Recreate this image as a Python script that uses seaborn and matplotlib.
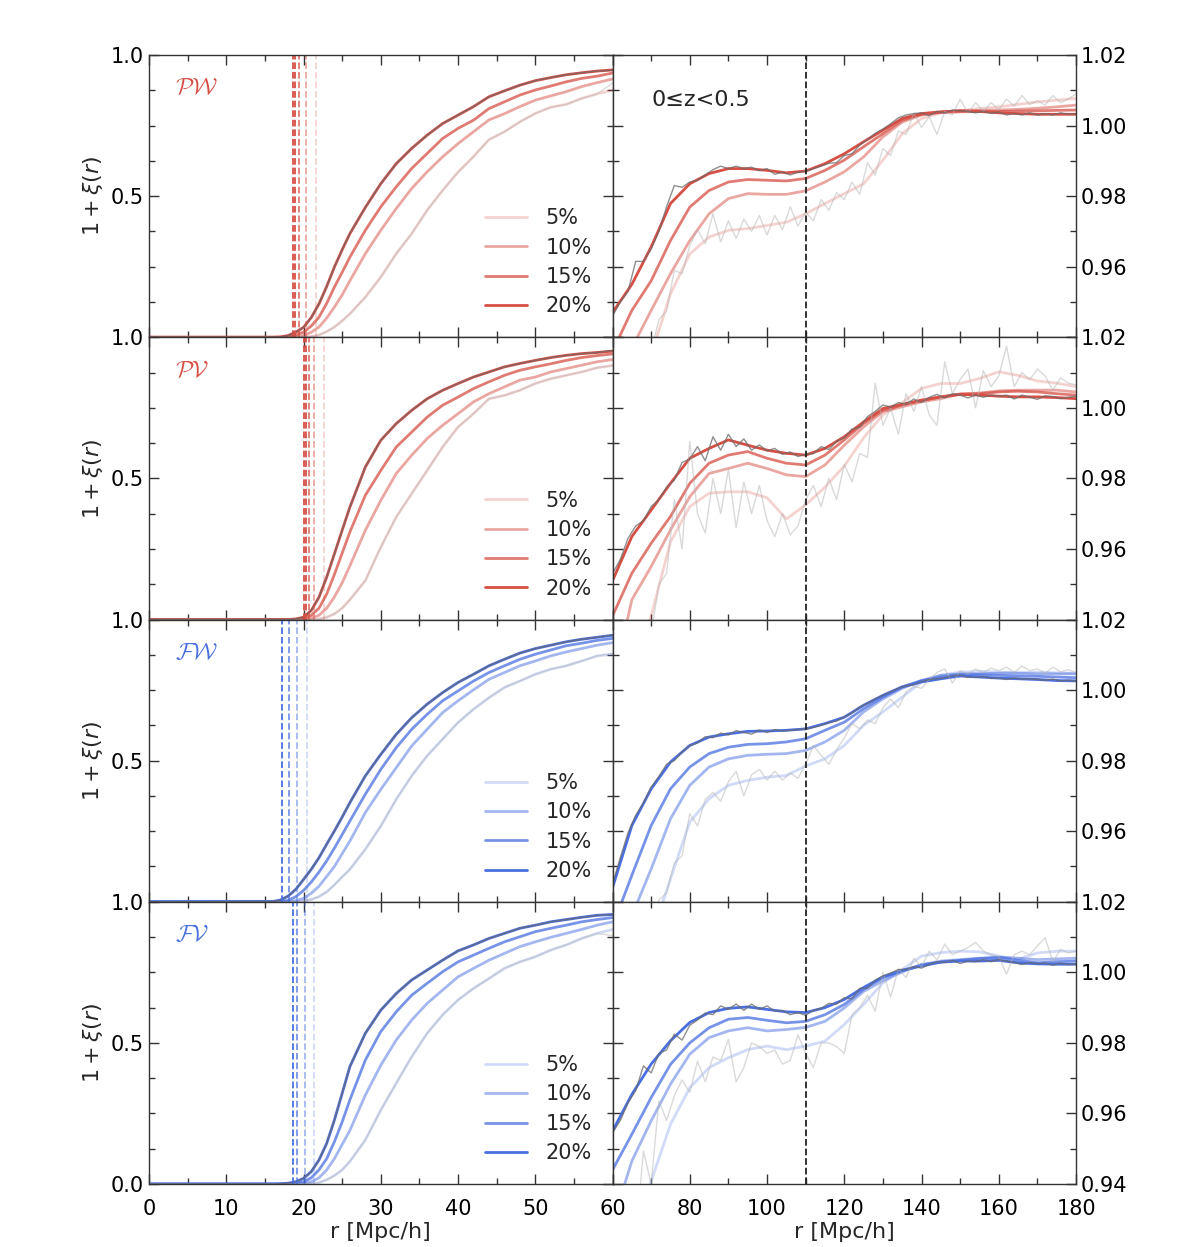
import numpy as np
import matplotlib
matplotlib.use("Agg")
import matplotlib.pyplot as plt
import seaborn as sns
from matplotlib.ticker import MultipleLocator

# radial grids [Mpc/h]
r_in = [0, 16, 17, 18, 19, 20, 21, 22, 23, 24, 25, 26, 28, 30, 32, 34, 36, 38,
        40, 42, 44, 46, 48, 50, 52, 54, 56, 58]
r_out = [60, 65, 70, 75, 80, 85, 90, 95, 100, 105, 110, 115, 120, 125, 130,
         135, 140, 145, 150, 155, 160, 165, 170, 175, 180]
r_raw = [60, 62, 64, 66, 68, 70, 72, 74, 76, 78, 80, 82, 84, 86, 88, 90, 92, 94,
         96, 98, 100, 102, 104, 106, 108, 110, 112, 114, 116, 118, 120, 122, 124,
         126, 128, 130, 132, 134, 136, 138, 140, 142, 144, 146, 148, 150, 152,
         154, 156, 158, 160, 162, 164, 166, 168, 170, 172, 174, 176, 178, 180]

percent_labels = ["5%", "10%", "15%", "20%"]

# ---- PW : smoothed curves (5%, 10%, 15%, 20%) ----
pw_in = [
    [0, 0, 0, 0, 0, 0.001, 0.003, 0.008, 0.02, 0.036, 0.058, 0.083, 0.142, 0.213, 0.296, 0.367, 0.45, 0.52,
     0.585, 0.64, 0.7, 0.728, 0.763, 0.793, 0.815, 0.825, 0.846, 0.862],
    [0, 0, 0, 0, 0.002, 0.006, 0.018, 0.036, 0.068, 0.107, 0.15, 0.2, 0.296, 0.379, 0.456, 0.527, 0.586, 0.639,
     0.686, 0.728, 0.77, 0.792, 0.817, 0.84, 0.855, 0.87, 0.888, 0.902],
    [0, 0, 0, 0.002, 0.008, 0.018, 0.04, 0.071, 0.12, 0.178, 0.23, 0.284, 0.379, 0.462, 0.533, 0.598, 0.651, 0.704,
     0.74, 0.769, 0.81, 0.834, 0.858, 0.876, 0.89, 0.905, 0.917, 0.925],
    [0, 0, 0.001, 0.006, 0.018, 0.035, 0.07, 0.118, 0.18, 0.249, 0.31, 0.367, 0.46, 0.544, 0.615, 0.669, 0.716, 0.757,
     0.787, 0.817, 0.852, 0.873, 0.893, 0.909, 0.92, 0.93, 0.937, 0.943],
]
pw_out = [
    [0.876, 0.905, 0.935, 0.9523, 0.9636, 0.9684, 0.9703, 0.9708, 0.9717, 0.9726, 0.975, 0.9779, 0.9807, 0.9835,
     0.9902, 0.9977, 1.002, 1.0036, 1.0042, 1.0048, 1.0053, 1.006, 1.0067, 1.0072, 1.0077],
    [0.915, 0.937, 0.9476, 0.958, 0.9674, 0.975, 0.9793, 0.9807, 0.9805, 0.9805, 0.9815, 0.984, 0.9869, 0.9911,
     0.9968, 1.001, 1.003, 1.0038, 1.0042, 1.0043, 1.0044, 1.0046, 1.0049, 1.0053, 1.0058],
    [0.936, 0.9476, 0.956, 0.9674, 0.9769, 0.9816, 0.984, 0.9847, 0.9845, 0.9843, 0.985, 0.9873, 0.9902, 0.994,
     0.9977, 1.0015, 1.0032, 1.0037, 1.0039, 1.004, 1.004, 1.0041, 1.0042, 1.0043, 1.0044],
    [0.947, 0.955, 0.9656, 0.9779, 0.9835, 0.9864, 0.9878, 0.9878, 0.9873, 0.9866, 0.9871, 0.9892, 0.992, 0.9954,
     0.9987, 1.002, 1.0034, 1.0039, 1.0042, 1.004, 1.0036, 1.0034, 1.0032, 1.0032, 1.0032],
]
pw_raw_dark = [0.946, 0.950, 0.953, 0.9615, 0.9615, 0.965, 0.970, 0.977, 0.983, 0.9825,
               0.984, 0.9845, 0.986, 0.9875, 0.9885, 0.9878, 0.9885, 0.9878, 0.9882, 0.9872,
               0.9878, 0.9862, 0.9868, 0.986, 0.9868, 0.987, 0.9878, 0.9885, 0.9893, 0.9895,
               0.9915, 0.992, 0.9945, 0.996, 0.9978, 0.999, 1.0005, 1.0022, 1.003, 1.0034,
               1.0036, 1.0028, 1.004, 1.0036, 1.0044, 1.0042, 1.004, 1.0036, 1.004, 1.0035,
               1.0038, 1.003, 1.0034, 1.003, 1.0036, 1.003, 1.0034, 1.003, 1.0036, 1.0032,
               1.0034]
pw_raw_light = [0.900, 0.910, 0.920, 0.925, 0.930, 0.936, 0.945, 0.9475, 0.959, 0.958,
                0.966, 0.9705, 0.9665, 0.975, 0.967, 0.973, 0.968, 0.9735, 0.970, 0.9745,
                0.969, 0.9745, 0.9705, 0.977, 0.9715, 0.9755, 0.973, 0.979, 0.976, 0.981,
                0.979, 0.984, 0.9805, 0.9895, 0.986, 0.9935, 0.9915, 0.9985, 0.9975, 1.0035,
                0.9995, 1.0025, 0.9975, 1.004, 1.003, 1.0075, 1.0035, 1.0065, 1.004, 1.0065,
                1.0045, 1.0075, 1.0055, 1.0085, 1.006, 1.007, 1.0058, 1.0085, 1.0065, 1.0075,
                1.009]
pw_cross = [21.6, 20.3, 19.45, 18.9, 18.65]

# ---- PV ----
pv_in = [
    [0, 0, 0, 0, 0, 0, 0, 0.002, 0.008, 0.02, 0.04, 0.07, 0.138, 0.256, 0.363, 0.446, 0.528, 0.611,
     0.682, 0.729, 0.782, 0.794, 0.812, 0.836, 0.853, 0.865, 0.877, 0.892],
    [0, 0, 0, 0, 0, 0, 0.005, 0.015, 0.04, 0.08, 0.13, 0.19, 0.316, 0.422, 0.517, 0.582, 0.641, 0.688,
     0.729, 0.771, 0.8, 0.824, 0.848, 0.859, 0.877, 0.889, 0.901, 0.913],
    [0, 0, 0, 0, 0, 0.004, 0.015, 0.04, 0.09, 0.16, 0.235, 0.31, 0.44, 0.528, 0.611, 0.664, 0.717, 0.759,
     0.788, 0.818, 0.842, 0.865, 0.883, 0.895, 0.906, 0.918, 0.928, 0.935],
    [0, 0, 0, 0, 0.002, 0.008, 0.032, 0.079, 0.15, 0.233, 0.316, 0.398, 0.54, 0.635, 0.694, 0.741, 0.782, 0.812,
     0.836, 0.859, 0.877, 0.895, 0.907, 0.918, 0.928, 0.936, 0.942, 0.946],
]
pv_out = [
    [0.9, 0.925, 0.941, 0.962, 0.972, 0.9758, 0.9762, 0.9762, 0.9745, 0.9685, 0.9725, 0.9775, 0.9835, 0.9915,
     0.998, 1.0015, 1.0055, 1.0069, 1.0069, 1.0083, 1.0102, 1.0092, 1.0076, 1.007, 1.006],
    [0.921, 0.9456, 0.955, 0.9654, 0.9748, 0.9814, 0.9828, 0.9843, 0.9828, 0.981, 0.9805, 0.9838, 0.9894, 0.9946,
     0.9989, 1.0003, 1.0017, 1.0026, 1.0039, 1.0042, 1.0048, 1.005, 1.005, 1.005, 1.0045],
    [0.941, 0.9531, 0.9616, 0.9692, 0.9786, 0.9843, 0.9866, 0.9876, 0.9857, 0.9843, 0.9838, 0.9866, 0.9909, 0.9956,
     0.9993, 1.0008, 1.002, 1.0031, 1.0039, 1.004, 1.0045, 1.0047, 1.0045, 1.004, 1.0036],
    [0.951, 0.9635, 0.971, 0.9786, 0.9857, 0.9885, 0.9909, 0.9894, 0.988, 0.9871, 0.9866, 0.9885, 0.9918, 0.996,
     0.9998, 1.001, 1.0022, 1.0031, 1.0038, 1.0036, 1.0033, 1.0031, 1.0031, 1.0029, 1.0026],
]
pv_raw_dark = [0.953, 0.957, 0.963, 0.9665, 0.968, 0.972, 0.974, 0.9775, 0.9795, 0.9845,
               0.9855, 0.989, 0.985, 0.9918, 0.988, 0.9925, 0.989, 0.9912, 0.988, 0.9895,
               0.9878, 0.9885, 0.9868, 0.9875, 0.9862, 0.9868, 0.987, 0.989, 0.9882, 0.9905,
               0.9915, 0.994, 0.9945, 0.9975, 0.999, 1.0008, 1.0002, 1.0015, 1.001, 1.0025,
               1.0015, 1.003, 1.0038, 1.0028, 1.004, 1.0036, 1.0028, 1.0036, 1.003, 1.0036,
               1.0033, 1.0036, 1.0025, 1.0036, 1.003, 1.0024, 1.0034, 1.0032, 1.0026, 1.003,
               1.0033]
pv_raw_light = [0.900, 0.910, 0.920, 0.925, 0.930, 0.936, 0.950, 0.953, 0.974, 0.960,
                0.9905, 0.970, 0.9645, 0.980, 0.970, 0.9825, 0.966, 0.979, 0.970, 0.978,
                0.968, 0.9635, 0.970, 0.964, 0.9665, 0.974, 0.978, 0.972, 0.980, 0.974,
                0.984, 0.979, 0.987, 0.986, 1.007, 0.995, 1.000, 0.9925, 1.004, 0.999,
                1.006, 0.998, 0.995, 1.013, 1.004, 1.008, 1.011, 1.000, 1.0105, 1.006,
                1.009, 1.0175, 1.006, 1.010, 1.008, 1.011, 1.009, 1.005, 1.0085, 1.007,
                1.0065]
pv_cross = [22.6, 21.4, 20.7, 20.3, 20.05]

# ---- FW ----
fw_in = [
    [0, 0, 0, 0, 0.001, 0.003, 0.008, 0.018, 0.035, 0.06, 0.088, 0.115, 0.186, 0.268, 0.363, 0.446, 0.517, 0.576,
     0.635, 0.682, 0.723, 0.759, 0.782, 0.806, 0.824, 0.836, 0.853, 0.871],
    [0, 0, 0, 0.001, 0.004, 0.012, 0.03, 0.055, 0.09, 0.125, 0.17, 0.215, 0.316, 0.398, 0.475, 0.552, 0.611, 0.67,
     0.712, 0.751, 0.788, 0.812, 0.836, 0.853, 0.871, 0.885, 0.897, 0.909],
    [0, 0, 0.001, 0.005, 0.018, 0.04, 0.07, 0.105, 0.145, 0.19, 0.238, 0.286, 0.381, 0.469, 0.546, 0.611, 0.664, 0.712,
     0.747, 0.782, 0.812, 0.836, 0.859, 0.877, 0.892, 0.907, 0.916, 0.926],
    [0, 0.001, 0.006, 0.02, 0.044, 0.079, 0.115, 0.156, 0.204, 0.251, 0.30, 0.351, 0.446, 0.522, 0.593, 0.652, 0.7,
     0.741, 0.777, 0.806, 0.836, 0.859, 0.881, 0.897, 0.909, 0.921, 0.93, 0.937],
]
fw_out = [
    [0.877, 0.905, 0.93, 0.9465, 0.9626, 0.9692, 0.973, 0.9744, 0.9753, 0.9758, 0.9785, 0.9805, 0.9843, 0.99,
     0.9938, 0.998, 1.0023, 1.0042, 1.0051, 1.0053, 1.0051, 1.0049, 1.0051, 1.0049, 1.0048],
    [0.918, 0.936, 0.9493, 0.9635, 0.973, 0.9782, 0.9805, 0.9815, 0.9818, 0.982, 0.9829, 0.9853, 0.9886, 0.9938,
     0.9975, 1.0005, 1.0027, 1.0042, 1.0046, 1.0046, 1.0048, 1.0048, 1.0046, 1.0046, 1.0046],
    [0.933, 0.9475, 0.9616, 0.972, 0.9782, 0.982, 0.9838, 0.9846, 0.9848, 0.9853, 0.9862, 0.9886, 0.9909, 0.9947,
     0.998, 1.0009, 1.0027, 1.0037, 1.0044, 1.0044, 1.0042, 1.004, 1.0039, 1.0037, 1.0035],
    [0.944, 0.9616, 0.972, 0.9796, 0.9843, 0.9867, 0.9876, 0.9883, 0.9884, 0.9886, 0.989, 0.9905, 0.9923, 0.9957,
     0.9985, 1.0009, 1.0023, 1.0032, 1.004, 1.0037, 1.0034, 1.0032, 1.003, 1.0027, 1.0026],
]
fw_raw_dark = [0.945, 0.9525, 0.9595, 0.9645, 0.968, 0.9725, 0.9755, 0.979, 0.980, 0.9825,
               0.9843, 0.985, 0.9868, 0.9865, 0.9878, 0.9873, 0.9885, 0.988, 0.9875, 0.9887,
               0.988, 0.9888, 0.9884, 0.9886, 0.9888, 0.989, 0.9894, 0.990, 0.9908, 0.9912,
               0.9924, 0.9935, 0.9952, 0.9962, 0.9975, 0.9985, 0.9995, 1.0005, 1.0012, 1.0015,
               1.0024, 1.003, 1.0032, 1.0035, 1.004, 1.0042, 1.0036, 1.0036, 1.0038, 1.0033,
               1.0034, 1.003, 1.0034, 1.0031, 1.0032, 1.003, 1.0028, 1.0031, 1.0026, 1.0028,
               1.0026]
fw_raw_light = [0.880, 0.890, 0.900, 0.912, 0.922, 0.930, 0.9405, 0.9425, 0.951, 0.953,
                0.965, 0.9615, 0.969, 0.971, 0.9685, 0.974, 0.977, 0.970, 0.976, 0.9775,
                0.9745, 0.977, 0.9745, 0.9765, 0.975, 0.979, 0.9843, 0.9815, 0.979, 0.983,
                0.9865, 0.9905, 0.989, 0.9915, 0.9905, 0.995, 0.9975, 0.995, 0.9995, 1.001,
                1.0005, 1.003, 1.005, 1.006, 1.002, 1.0055, 1.0045, 1.006, 1.005, 1.0062,
                1.0055, 1.0065, 1.005, 1.0068, 1.0055, 1.006, 1.0048, 1.0065, 1.0052, 1.0058,
                1.005]
fw_cross = [20.5, 19.15, 18.1, 17.25]

# ---- FV ----
fv_in = [
    [0, 0, 0, 0, 0, 0.001, 0.002, 0.005, 0.015, 0.03, 0.05, 0.08, 0.156, 0.262, 0.357, 0.451, 0.534, 0.599,
     0.652, 0.693, 0.728, 0.764, 0.787, 0.805, 0.829, 0.847, 0.87, 0.888],
    [0, 0, 0, 0, 0.001, 0.003, 0.008, 0.022, 0.05, 0.09, 0.14, 0.19, 0.315, 0.421, 0.51, 0.581, 0.64, 0.687,
     0.734, 0.764, 0.793, 0.817, 0.841, 0.858, 0.874, 0.888, 0.902, 0.917],
    [0, 0, 0, 0.001, 0.003, 0.008, 0.022, 0.05, 0.09, 0.15, 0.22, 0.298, 0.439, 0.54, 0.61, 0.669, 0.711, 0.752,
     0.787, 0.811, 0.835, 0.858, 0.876, 0.894, 0.906, 0.917, 0.929, 0.937],
    [0, 0, 0.001, 0.003, 0.008, 0.02, 0.044, 0.085, 0.144, 0.227, 0.321, 0.416, 0.534, 0.616, 0.675, 0.723, 0.758,
     0.793, 0.826, 0.847, 0.87, 0.888, 0.906, 0.917, 0.929, 0.937, 0.945, 0.952],
]
fv_out = [
    [0.902, 0.925, 0.9408, 0.9569, 0.9673, 0.973, 0.9758, 0.9781, 0.9791, 0.9781, 0.9791, 0.9805, 0.9852, 0.9909,
     0.997, 1.0008, 1.0046, 1.0056, 1.006, 1.0058, 1.0046, 1.0037, 1.0055, 1.006, 1.006],
    [0.929, 0.9465, 0.9579, 0.9683, 0.9768, 0.9815, 0.9834, 0.9843, 0.9834, 0.9838, 0.9844, 0.9861, 0.9899, 0.9946,
     0.9976, 1.0001, 1.0022, 1.0032, 1.0036, 1.004, 1.0043, 1.004, 1.0036, 1.0038, 1.004],
    [0.944, 0.9541, 0.9645, 0.9739, 0.98, 0.9843, 0.9867, 0.9872, 0.9864, 0.9857, 0.9861, 0.988, 0.9909, 0.9952,
     0.9985, 1.0004, 1.0021, 1.0029, 1.0034, 1.0039, 1.0042, 1.0034, 1.0027, 1.003, 1.0032],
    [0.955, 0.9654, 0.974, 0.9806, 0.9858, 0.9886, 0.9898, 0.9902, 0.9895, 0.9888, 0.9886, 0.99, 0.9923, 0.9957,
     0.9987, 1.0006, 1.0018, 1.0029, 1.0032, 1.0032, 1.0034, 1.0027, 1.0024, 1.0023, 1.0023],
]
fv_raw_dark = [0.9545, 0.958, 0.963, 0.9665, 0.9735, 0.9715, 0.977, 0.978, 0.9825, 0.9808,
               0.985, 0.9865, 0.9885, 0.988, 0.9905, 0.9895, 0.991, 0.9892, 0.991, 0.9895,
               0.9905, 0.989, 0.9892, 0.988, 0.9886, 0.9878, 0.9892, 0.9898, 0.9912, 0.991,
               0.9928, 0.9925, 0.9955, 0.9955, 0.9978, 0.999, 0.9998, 1.0008, 1.0008, 1.0016,
               1.0012, 1.0022, 1.003, 1.0028, 1.0034, 1.0025, 1.0032, 1.003, 1.0036, 1.003,
               1.0036, 1.0032, 1.0028, 1.0022, 1.0028, 1.0024, 1.0026, 1.002, 1.0026, 1.0022,
               1.0024]
fv_raw_light = [0.880, 0.895, 0.910, 0.925, 0.9494, 0.940, 0.9636, 0.958, 0.965, 0.9695,
                0.966, 0.9748, 0.969, 0.976, 0.975, 0.981, 0.969, 0.973, 0.980, 0.979,
                0.977, 0.978, 0.974, 0.975, 0.9823, 0.977, 0.973, 0.980, 0.980, 0.979,
                0.977, 0.988, 0.990, 0.9935, 0.989, 1.000, 0.993, 1.001, 0.9985, 1.004,
                1.0015, 1.006, 1.0035, 1.008, 1.005, 1.006, 1.007, 1.0085, 1.006, 1.005,
                1.0045, 0.9995, 1.005, 1.006, 1.005, 1.0075, 1.0098, 1.003, 1.0065, 1.0055,
                1.006]
fv_cross = [21.3, 20.2, 19.2, 18.6]

# shade index of each dashed crossing line (0 = 5% ... 3 = 20%)
cross_shade = [0, 1, 2, 3, 3]

RED = "#d64f45"
BLUE = "#4a6fe0"
shade_alpha = [0.25, 0.5, 0.75, 1.0]

panels = [
    (r"$\mathcal{PW}$", RED, pw_in, pw_out, pw_raw_dark, pw_raw_light, pw_cross),
    (r"$\mathcal{PV}$", RED, pv_in, pv_out, pv_raw_dark, pv_raw_light, pv_cross),
    (r"$\mathcal{FW}$", BLUE, fw_in, fw_out, fw_raw_dark, fw_raw_light, fw_cross),
    (r"$\mathcal{FV}$", BLUE, fv_in, fv_out, fv_raw_dark, fv_raw_light, fv_cross),
]

sns.set_style("ticks")
plt.rcParams["font.family"] = ["DejaVu Sans"]
plt.rcParams["mathtext.fontset"] = "dejavusans"

fig = plt.figure(figsize=(11.96, 12.47), dpi=100)
gs = fig.add_gridspec(4, 2, left=0.1246, right=0.8997, bottom=0.0505, top=0.9559,
                      hspace=0, wspace=0)

r_full = r_in + r_out
SPINE = "#333333"

for row, (name, base, vin, vout, raw_dark, raw_light, cross) in enumerate(panels):
    axL = fig.add_subplot(gs[row, 0])
    axR = fig.add_subplot(gs[row, 1])

    for ax in (axL, axR):
        for k in range(4):
            sns.lineplot(x=r_full, y=vin[k] + vout[k], ax=ax, color=base,
                         alpha=shade_alpha[k], lw=2.0, estimator=None,
                         label=percent_labels[k] if ax is axL else None,
                         legend=False)
        # unsmoothed measurements for 5% and 20%
        sns.lineplot(x=r_in + r_raw, y=vin[0] + raw_light, ax=ax, color="#b5b5b5",
                     alpha=0.5, lw=1.0, estimator=None, legend=False)
        sns.lineplot(x=r_in + r_raw, y=vin[3] + raw_dark, ax=ax, color="#6a6a6a",
                     alpha=0.75, lw=1.0, estimator=None, legend=False)

    for r_c, k in zip(cross, cross_shade):
        axL.axvline(r_c, color=base, alpha=shade_alpha[k], ls="--", lw=1.3)
    axR.axvline(110, color="#222222", ls="--", lw=1.3)

    axL.set_xlim(0, 60)
    axL.set_ylim(0, 1)
    axR.set_xlim(60, 180)
    axR.set_ylim(0.94, 1.02)

    axL.xaxis.set_major_locator(MultipleLocator(10))
    axL.xaxis.set_minor_locator(MultipleLocator(5))
    axL.set_yticks([0, 0.5, 1.0])
    axL.yaxis.set_minor_locator(MultipleLocator(0.125))
    axR.xaxis.set_major_locator(MultipleLocator(20))
    axR.xaxis.set_minor_locator(MultipleLocator(10))
    axR.set_yticks([0.94, 0.96, 0.98, 1.00, 1.02])
    axR.yaxis.set_minor_locator(MultipleLocator(0.01))

    bottom = row == 3
    axL.set_yticklabels(["0.0" if bottom else "", "0.5", "1.0"])
    axR.set_yticklabels(["0.94" if bottom else "", "0.96", "0.98", "1.00", "1.02"])

    for ax in (axL, axR):
        ax.tick_params(which="both", direction="in", top=True, bottom=True,
                       left=True, right=True, colors=SPINE, labelcolor="black",
                       labelsize=15)
        ax.tick_params(which="major", length=7, width=1)
        ax.tick_params(which="minor", length=4, width=1)
        ax.tick_params(axis="x", pad=11)
        for sp in ax.spines.values():
            sp.set_color(SPINE)
            sp.set_linewidth(1)
        ax.set_xlabel("")
        ax.set_ylabel("")
    axR.tick_params(which="both", labelleft=False, labelright=True)

    if bottom:
        axL.set_xticks([0, 10, 20, 30, 40, 50, 60])
        axR.set_xticks([60, 80, 100, 120, 140, 160, 180])
        axR.set_xticklabels(["", "80", "100", "120", "140", "160", "180"])
        axL.set_xlabel("r [Mpc/h]", fontsize=16, labelpad=2)
        axR.set_xlabel("r [Mpc/h]", fontsize=16, labelpad=2)
    else:
        axL.tick_params(labelbottom=False)
        axR.tick_params(labelbottom=False)

    axL.set_ylabel(r"$1+\xi(r)$", fontsize=16)
    axL.text(0.055, 0.885, name, transform=axL.transAxes, color=base,
             fontsize=17, ha="left", va="center", math_fontfamily="cm")

    handles, labels = axL.get_legend_handles_labels()
    axL.legend(handles[:4], labels[:4], loc="lower right", bbox_to_anchor=(1.0, 0.0),
               frameon=False, fontsize=15, handlelength=2.0, labelspacing=0.45,
               handletextpad=0.9, borderaxespad=0.6)

    if row == 0:
        axR.text(0.085, 0.84, "0≤z<0.5", transform=axR.transAxes, fontsize=16,
                 ha="left", va="center")

fig.savefig("out.png", dpi=100)
